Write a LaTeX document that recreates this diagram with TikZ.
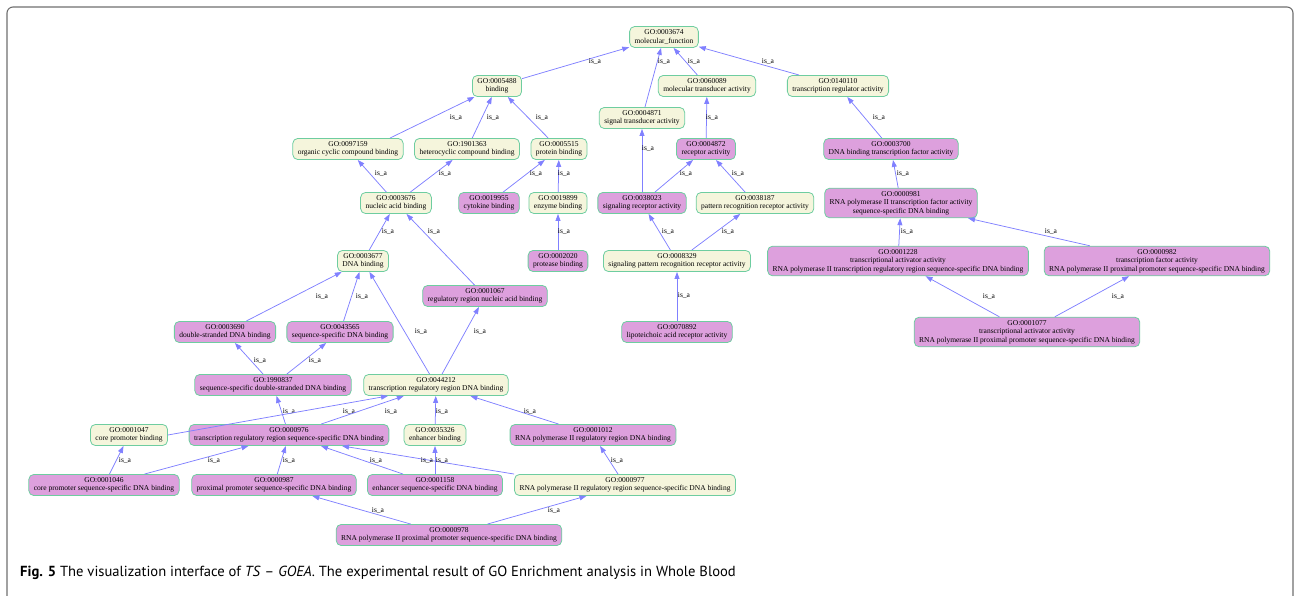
\documentclass[tikz,border=0pt]{standalone}
\usepackage{fontspec}
\setmainfont{Liberation Serif}
\newfontfamily\capfont[Ligatures=TeX]{PT Sans}
\usepackage{xcolor}
\usepackage{tikz}
\usetikzlibrary{arrows.meta}

\definecolor{gobeige}{RGB}{245,245,220}
\definecolor{goplum}{RGB}{221,160,221}
\definecolor{goborder}{RGB}{110,205,160}
\definecolor{goedge}{RGB}{128,128,255}
\definecolor{panelgray}{RGB}{110,110,110}

\begin{document}
\begin{tikzpicture}[
    x=1pt, y=-1pt,
    term/.style={rectangle, draw=goborder, line width=0.8pt, rounded corners=5pt, align=center, font=\fontsize{7.5}{8.5}\selectfont, inner xsep=5pt, inner ysep=3pt, minimum height=21pt},
    plain/.style={term, fill=gobeige},
    hit/.style={term, fill=goplum},
    arrow/.style={-{Triangle[length=7pt, width=5pt]}, draw=goedge, line width=0.75pt},
    lbl/.style={font=\fontsize{7.5}{8.5}\selectfont, inner sep=0pt}
]
\useasboundingbox (0,0) rectangle (1294,596);

% Panel frame
\draw[panelgray, line width=1.1pt, rounded corners=6pt] (7,596) -- (7,7) -- (1293,7) -- (1293,596);

% Nodes
\node[plain] (n0003674) at (664,37) {GO:0003674\\molecular\_function};
\node[plain] (n0005488) at (497,86) {GO:0005488\\binding};
\node[plain] (n0060089) at (707,86) {GO:0060089\\molecular transducer activity};
\node[plain] (n0140110) at (838,86) {GO:0140110\\transcription regulator activity};
\node[plain] (n0004871) at (642,118) {GO:0004871\\signal transducer activity};
\node[plain] (n0097159) at (348,149) {GO:0097159\\organic cyclic compound binding};
\node[plain] (n1901363) at (467,149) {GO:1901363\\heterocyclic compound binding};
\node[plain] (n0005515) at (559,149) {GO:0005515\\protein binding};
\node[hit] (n0004872) at (706,149) {GO:0004872\\receptor activity};
\node[hit] (n0003700) at (891,149) {GO:0003700\\DNA binding transcription factor activity};
\node[plain] (n0003676) at (396,203) {GO:0003676\\nucleic acid binding};
\node[hit] (n0019955) at (489,203) {GO:0019955\\cytokine binding};
\node[plain] (n0019899) at (558,203) {GO:0019899\\enzyme binding};
\node[hit] (n0038023) at (642,203) {GO:0038023\\signaling receptor activity};
\node[plain] (n0038187) at (755,203) {GO:0038187\\pattern recognition receptor activity};
\node[hit] (n0000981) at (901,203) {GO:0000981\\RNA polymerase II transcription factor activity\\sequence-specific DNA binding};
\node[plain] (n0003677) at (363,261) {GO:0003677\\DNA binding};
\node[hit] (n0002020) at (558,261) {GO:0002020\\protease binding};
\node[plain] (n0008329) at (677,261) {GO:0008329\\signaling pattern recognition receptor activity};
\node[hit] (n0001228) at (898,261) {GO:0001228\\transcriptional activator activity\\RNA polymerase II transcription regulatory region sequence-specific DNA binding};
\node[hit] (n0000982) at (1157,261) {GO:0000982\\transcription factor activity\\RNA polymerase II proximal promoter sequence-specific DNA binding};
\node[hit] (n0001067) at (485,296) {GO:0001067\\regulatory region nucleic acid binding};
\node[hit] (n0003690) at (225,332) {GO:0003690\\double-stranded DNA binding};
\node[hit] (n0043565) at (340,332) {GO:0043565\\sequence-specific DNA binding};
\node[hit] (n0070892) at (677,332) {GO:0070892\\lipoteichoic acid receptor activity};
\node[hit] (n0001077) at (1027,332) {GO:0001077\\transcriptional activator activity\\RNA polymerase II proximal promoter sequence-specific DNA binding};
\node[hit] (n1990837) at (273,385) {GO:1990837\\sequence-specific double-stranded DNA binding};
\node[plain] (n0044212) at (436,385) {GO:0044212\\transcription regulatory region DNA binding};
\node[plain] (n0001047) at (129,435) {GO:0001047\\core promoter binding};
\node[hit] (n0000976) at (289,435) {GO:0000976\\transcription regulatory region sequence-specific DNA binding};
\node[plain] (n0035326) at (435,435) {GO:0035326\\enhancer binding};
\node[hit] (n0001012) at (593,435) {GO:0001012\\RNA polymerase II regulatory region DNA binding};
\node[hit] (n0001046) at (104,485) {GO:0001046\\core promoter sequence-specific DNA binding};
\node[hit] (n0000987) at (274,485) {GO:0000987\\proximal promoter sequence-specific DNA binding};
\node[hit] (n0001158) at (435,485) {GO:0001158\\enhancer sequence-specific DNA binding};
\node[plain] (n0000977) at (625,485) {GO:0000977\\RNA polymerase II regulatory region sequence-specific DNA binding};
\node[hit] (n0000978) at (449,535) {GO:0000978\\RNA polymerase II proximal promoter sequence-specific DNA binding};

% Arrows (child -> parent)
\draw[arrow] (n0005488) -- (n0003674) node[lbl] at (595,62) {is\_a};
\draw[arrow] (n0004871) -- (n0003674) node[lbl] at (664,62) {is\_a};
\draw[arrow] (n0060089) -- (n0003674) node[lbl] at (694,62) {is\_a};
\draw[arrow] (n0140110) -- (n0003674) node[lbl] at (768,62) {is\_a};
\draw[arrow] ([xshift=42pt]n0097159.north) -- (n0005488) node[lbl] at (456,118) {is\_a};
\draw[arrow] (n1901363) -- (n0005488) node[lbl] at (493,118) {is\_a};
\draw[arrow] (n0005515) -- (n0005488) node[lbl] at (542,118) {is\_a};
\draw[arrow] (n0004872) -- (n0060089) node[lbl] at (712,118) {is\_a};
\draw[arrow] (n0003700) -- (n0140110) node[lbl] at (879,118) {is\_a};
\draw[arrow] (n0038023) -- (n0004871) node[lbl] at (648,149) {is\_a};
\draw[arrow] (n0003676) -- (n0097159) node[lbl] at (381,174) {is\_a};
\draw[arrow] (n0003676) -- (n1901363) node[lbl] at (445,174) {is\_a};
\draw[arrow] (n0019955) -- (n0005515) node[lbl] at (536,174) {is\_a};
\draw[arrow] (n0019899) -- (n0005515) node[lbl] at (564,174) {is\_a};
\draw[arrow] (n0038023) -- (n0004872) node[lbl] at (686,174) {is\_a};
\draw[arrow] (n0038187) -- (n0004872) node[lbl] at (738,174) {is\_a};
\draw[arrow] (n0000981) -- (n0003700) node[lbl] at (903,174) {is\_a};
\draw[arrow] (n0003677) -- (n0003676) node[lbl] at (388,232) {is\_a};
\draw[arrow] (n0001067) -- (n0003676) node[lbl] at (434,232) {is\_a};
\draw[arrow] (n0002020) -- (n0019899) node[lbl] at (564,232) {is\_a};
\draw[arrow] (n0008329) -- (n0038023) node[lbl] at (668,232) {is\_a};
\draw[arrow] (n0008329) -- (n0038187) node[lbl] at (728,232) {is\_a};
\draw[arrow] (n0001228) -- (n0000981) node[lbl] at (907,232) {is\_a};
\draw[arrow] (n0000982) -- (n0000981) node[lbl] at (1051,232) {is\_a};
\draw[arrow] (n0003690) -- (n0003677) node[lbl] at (322,297) {is\_a};
\draw[arrow] (n0043565) -- (n0003677) node[lbl] at (362,297) {is\_a};
\draw[arrow] (n0070892) -- (n0008329) node[lbl] at (684,296) {is\_a};
\draw[arrow] (n0001077) -- (n0001228) node[lbl] at (989,297) {is\_a};
\draw[arrow] (n0001077) -- (n0000982) node[lbl] at (1118,297) {is\_a};
\draw[arrow] (n0044212) -- (n0003677) node[lbl] at (421,332) {is\_a};
\draw[arrow] (n0044212) -- (n0001067) node[lbl] at (480,332) {is\_a};
\draw[arrow] (n1990837) -- (n0003690) node[lbl] at (260,361) {is\_a};
\draw[arrow] (n1990837) -- (n0043565) node[lbl] at (315,361) {is\_a};
\draw[arrow] (n0000976) -- (n1990837) node[lbl] at (289,411) {is\_a};
\draw[arrow] (n0001047.east) -- ([xshift=-48pt]n0044212.south) node[lbl] at (349,411) {is\_a};
\draw[arrow] (n0000976) -- (n0044212) node[lbl] at (391,411) {is\_a};
\draw[arrow] (n0035326) -- (n0044212) node[lbl] at (442,411) {is\_a};
\draw[arrow] (n0001012) -- (n0044212) node[lbl] at (530,411) {is\_a};
\draw[arrow] (n0001046) -- (n0001047) node[lbl] at (125,460) {is\_a};
\draw[arrow] (n0001046) -- (n0000976) node[lbl] at (214,460) {is\_a};
\draw[arrow] (n0000987) -- (n0000976) node[lbl] at (289,460) {is\_a};
\draw[arrow] (n0001158) -- (n0000976) node[lbl] at (376,460) {is\_a};
\draw[arrow] (n0000977.north west) -- ([xshift=53pt]n0000976.south) node[lbl] at (427,460) {is\_a};
\draw[arrow] (n0001158) -- (n0035326) node[lbl] at (442,460) {is\_a};
\draw[arrow] (n0000977) -- (n0001012) node[lbl] at (617,460) {is\_a};
\draw[arrow] (n0000978) -- (n0000987) node[lbl] at (378,510) {is\_a};
\draw[arrow] (n0000978) -- (n0000977) node[lbl] at (554,510) {is\_a};

% Caption
\node[anchor=west, inner sep=0pt, font=\capfont\fontsize{14.6}{17}\selectfont] (caption) at (20,573) {\textbf{Fig. 5} The visualization interface of \textit{TS} – \textit{GOEA}. The experimental result of GO Enrichment analysis in Whole Blood};

\end{tikzpicture}
\end{document}
